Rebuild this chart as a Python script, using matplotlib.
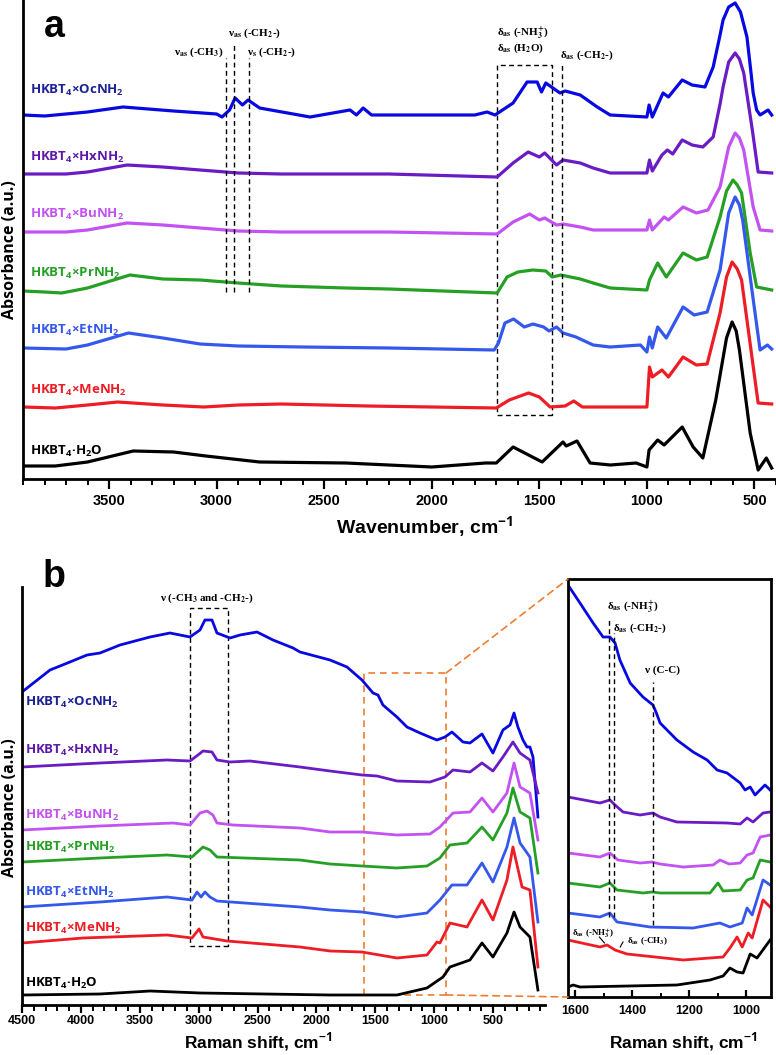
import numpy as np
import matplotlib
matplotlib.use("Agg")
import matplotlib.pyplot as plt
from matplotlib.ticker import MultipleLocator
from matplotlib.patches import Rectangle, ConnectionPatch

# ---------------- DATA ----------------
NAMES = ["HKBT$_4$×OcNH$_2$", "HKBT$_4$×HxNH$_2$", "HKBT$_4$×BuNH$_2$",
         "HKBT$_4$×PrNH$_2$", "HKBT$_4$×EtNH$_2$", "HKBT$_4$×MeNH$_2$",
         "HKBT$_4$·H$_2$O"]

# Panel a: FTIR (wavenumber, absorbance a.u.)
A_OC = [(3900, 0), (3800, -1), (3700, 1), (3600, 3), (3435, 8), (3200, 4), (3000, 1), (2975, -2),
        (2940, 5), (2914, 17), (2880, 10), (2854, 15), (2800, 7), (2566, -2), (2380, 5), (2350, 0),
        (2319, 7), (2280, 0), (2147, 0), (1800, 0), (1743, 3), (1706, 0), (1622, 12), (1557, 33),
        (1510, 33), (1490, 23), (1470, 32), (1404, 22), (1380, 24), (1310, 20), (1231, 8), (1171, 0),
        (1000, -2), (990, 10), (975, -2), (925, 22), (900, 18), (836, 35), (790, 30), (730, 28),
        (692, 48), (660, 80), (646, 95), (620, 108), (590, 112), (565, 103), (535, 78), (515, 40),
        (506, 22), (490, 5), (474, 0), (437, 5), (420, 0)]
A_HX = [(3900, 0), (3700, 0), (3600, 2), (3416, 9), (3250, 7), (3077, 4), (2900, 1), (2700, 0),
        (2200, 0), (1696, -3), (1622, 11), (1552, 22), (1500, 17), (1475, 21), (1420, 9), (1390, 14),
        (1310, 11), (1250, 6), (1171, 1), (1000, 1), (988, 14), (975, 3), (930, 19), (905, 24),
        (880, 20), (836, 34), (790, 29), (740, 27), (692, 37), (660, 70), (646, 87), (620, 112),
        (590, 121), (570, 115), (550, 101), (510, 44), (483, 2), (420, 1)]
A_BU = [(3900, 0), (3700, 0), (3600, 2), (3416, 9), (3250, 7), (3077, 4), (2900, 1), (2700, 0),
        (2200, 0), (1696, -2), (1622, 10), (1545, 18), (1500, 12), (1475, 14), (1420, 7), (1390, 8),
        (1310, 5), (1250, 2), (1171, 2), (1000, 2), (988, 12), (975, 2), (920, 15), (900, 12),
        (832, 25), (770, 19), (716, 22), (660, 45), (620, 85), (590, 99), (570, 94), (550, 82),
        (506, 25), (474, 2), (420, 1)]
A_PR = [(3900, 0), (3800, -1), (3720, -2), (3600, 3), (3403, 16), (3250, 12), (3077, 11),
        (2900, 8), (2700, 5), (2400, 3), (2200, 2), (1696, -2), (1650, 14), (1600, 19), (1530, 21),
        (1470, 20), (1440, 14), (1400, 16), (1310, 12), (1250, 8), (1171, 3), (1000, 1), (988, 11),
        (950, 28), (910, 14), (832, 38), (770, 31), (720, 34), (660, 74), (630, 100), (600, 111),
        (580, 106), (560, 98), (520, 38), (490, 4), (420, 1)]
A_ET = [(3900, 0), (3700, -1), (3600, 3), (3410, 15), (3250, 10), (3077, 4), (2900, 2), (2600, 1),
        (2200, 0), (1710, -2), (1690, 5), (1660, 25), (1620, 29), (1570, 21), (1530, 24), (1480, 21),
        (1455, 17), (1420, 21), (1390, 15), (1330, 11), (1250, 3), (1171, 1), (1030, 3), (1000, -4),
        (988, 11), (975, 0), (950, 21), (910, 10), (832, 41), (780, 33), (720, 36), (660, 78),
        (620, 135), (590, 151), (570, 143), (555, 128), (510, 55), (474, -2), (440, 3), (420, -1)]
A_ME = [(3900, 0), (3750, -1), (3600, 2), (3460, 5), (3250, 2), (3060, 0), (2900, 2), (2700, 3),
        (2300, 1), (2000, 0), (1700, -1), (1640, 7), (1550, 14), (1500, 10), (1450, 0), (1380, 1),
        (1340, 6), (1300, 0), (1000, 0), (988, 40), (975, 30), (930, 37), (900, 30), (832, 50),
        (770, 42), (720, 43), (660, 94), (630, 130), (604, 145), (580, 138), (560, 127), (510, 47),
        (483, 4), (420, 3)]
A_H2O = [(3900, 0), (3750, 0), (3600, 4), (3388, 15), (3200, 14), (3050, 10), (2800, 4), (2400, 3),
         (2000, -1), (1750, 3), (1700, 3), (1622, 19), (1487, 4), (1390, 24), (1375, 20), (1325, 25),
         (1264, 3), (1170, 1), (1050, 3), (1000, -1), (990, 16), (950, 26), (920, 21), (836, 39),
         (785, 19), (740, 8), (680, 66), (630, 128), (604, 144), (585, 135), (570, 116), (520, 33),
         (483, -4), (445, 8), (420, -2)]

# Panel b: Raman (Raman shift, intensity a.u.)
B_OC = [(4500, 0), (4262, 22), (4093, 30), (3948, 37), (3838, 39), (3668, 47), (3413, 55),
        (3244, 59), (3074, 55), (2989, 62), (2947, 72), (2887, 72), (2845, 59), (2734, 54),
        (2649, 57), (2505, 60), (2369, 52), (2199, 44), (2140, 40), (1885, 32), (1741, 25),
        (1614, 12), (1520, -1), (1478, -3), (1436, -13), (1317, -25), (1232, -35), (1121, -41),
        (1020, -46), (977, -48), (909, -45), (850, -40), (756, -50), (697, -51), (595, -42),
        (502, -61), (417, -38), (357, -33), (323, -21), (290, -35), (247, -48), (213, -55),
        (188, -55), (162, -65), (120, -125)]
B_HX = [(4500, 0), (3838, 4), (3269, 7), (3074, 6), (3006, 12), (2963, 16), (2887, 15), (2845, 7),
        (2734, 5), (2565, 6), (2140, 0), (1885, -4), (1614, -8), (1486, -9), (1317, -14),
        (1036, -15), (909, -10), (841, -3), (697, -5), (595, 4), (502, -4), (417, 10), (332, 25),
        (272, 14), (213, 9), (188, 7), (120, -26)]
B_BU = [(4500, 0), (3838, 4), (3218, 7), (3074, 5), (2989, 17), (2930, 19), (2879, 15), (2845, 7),
        (2709, 5), (2140, 2), (1885, -2), (1614, -2), (1317, -5), (1036, -4), (952, 3), (841, 17),
        (697, 18), (595, 32), (502, 18), (383, 37), (323, 67), (272, 43), (188, 37), (120, -10)]
B_PR = [(4500, 0), (3838, 4), (3269, 7), (3057, 5), (2963, 15), (2904, 12), (2845, 5), (2140, 2),
        (1885, -2), (1614, -4), (1317, -6), (1062, -4), (952, 4), (867, 17), (722, 19), (595, 35),
        (502, 22), (383, 49), (332, 74), (272, 50), (188, 44), (120, -11)]
B_ET = [(4500, 0), (3838, 5), (3269, 10), (3057, 7), (3014, 15), (2980, 10), (2947, 15),
        (2904, 10), (2845, 6), (2140, 0), (1885, -3), (1614, -5), (1317, -10), (1062, -6),
        (952, 7), (850, 22), (722, 22), (595, 44), (502, 25), (383, 60), (323, 89), (272, 64),
        (188, 50), (120, -15)]
B_ME = [(4500, 0), (3982, 5), (3269, 8), (3057, 5), (2997, 14), (2963, 6), (2760, 2), (2140, -4),
        (1885, -8), (1614, -9), (1317, -15), (1062, -12), (977, 1), (952, 0), (867, 20), (722, 16),
        (595, 43), (502, 23), (383, 63), (332, 96), (255, 56), (188, 53), (120, -24)]
B_H2O = [(4500, 0), (3838, 1), (3413, 4), (2989, 2), (1885, 0), (1317, 0), (1062, 7), (926, 18),
         (867, 28), (697, 35), (595, 52), (502, 38), (383, 62), (323, 83), (272, 68), (188, 58),
         (120, 5)]

# Panel b inset (1600-900 cm-1)
I_OC = [(1625, 0), (1583, -18), (1537, -38), (1502, -52), (1478, -52), (1460, -58), (1443, -75),
        (1407, -98), (1362, -112), (1327, -120), (1315, -128), (1302, -138), (1243, -155),
        (1186, -167), (1137, -175), (1102, -185), (1067, -188), (1021, -198), (1004, -205),
        (986, -202), (969, -210), (934, -200), (916, -205)]
I_HX = [(1625, 0), (1513, -6), (1478, -3), (1460, -8), (1432, -15), (1372, -18), (1327, -16),
        (1302, -20), (1243, -25), (1067, -26), (1021, -27), (997, -21), (976, -25), (941, -16),
        (916, -15)]
I_BU = [(1625, 0), (1513, -4), (1478, 0), (1450, -7), (1372, -10), (1330, -9), (1302, -11),
        (1221, -14), (1116, -12), (1092, -7), (1060, -11), (1021, -10), (997, -2), (976, 0),
        (951, 16), (916, 18)]
I_PR = [(1625, 0), (1513, -4), (1478, 0), (1453, -7), (1362, -10), (1330, -9), (1302, -10),
        (1127, -10), (1099, 0), (1081, -8), (1021, -7), (997, 3), (976, 5), (951, 23), (916, 21)]
I_ET = [(1625, 0), (1513, -4), (1478, 0), (1453, -9), (1337, -14), (1186, -15), (1092, -10),
        (1057, -14), (1014, -10), (997, 5), (979, -2), (941, 33), (916, 28)]
I_ME = [(1625, 0), (1513, -7), (1488, -5), (1460, -10), (1418, -14), (1221, -20), (1081, -17),
        (1057, -8), (1032, 3), (1014, -7), (993, 7), (979, 2), (941, 40), (916, 33)]
I_H2O = [(1625, 0), (1607, 2), (1583, 0), (1243, 2), (1127, 7), (1081, 11), (1057, 19),
         (1032, 15), (1011, 14), (986, 33), (962, 29), (916, 47)]

A_TICKS = [3500, 3000, 2500, 2000, 1500, 1000, 500]
B_TICKS = [4500, 4000, 3500, 3000, 2500, 2000, 1500, 1000, 500]
I_TICKS = [1600, 1400, 1200, 1000]

# ---------------- STYLE / LAYOUT ----------------
CURVE_COLORS = ["#0808e0", "#6a1bc4", "#c352f2", "#25a025", "#3558ec", "#ee1c24", "#000000"]
LABEL_COLORS = ["#1c2296", "#5e1aaa", "#c352f2", "#25a025", "#3558ec", "#ee1c24", "#000000"]
A_OFFSETS = [364, 305, 247, 188, 131, 72, 13]
B_OFFSETS = [313, 238, 175, 143, 98, 62, 10]
I_OFFSETS = [412, 200, 144, 114, 84, 57, 10]
A_LABEL_Y = [90, 157, 214, 273, 330, 390, 451]
B_LABEL_Y = [702, 750, 815, 847, 892, 928, 983]

W, H = 776, 1055
plt.rcParams['font.family'] = ['Liberation Sans Narrow', 'Liberation Sans', 'DejaVu Sans']
plt.rcParams['font.weight'] = 'bold'
plt.rcParams['mathtext.fontset'] = 'custom'
plt.rcParams['mathtext.rm'] = 'Open Sans:bold'
plt.rcParams['mathtext.it'] = 'Open Sans:bold'
plt.rcParams['mathtext.bf'] = 'Open Sans:bold'

fig = plt.figure(figsize=(W / 100, H / 100), dpi=100)


def rect(x0, y0, x1, y1):
    return [x0 / W, 1 - y1 / H, (x1 - x0) / W, (y1 - y0) / H]


def fp(x, y):
    return x / W, 1 - y / H


def unzip(pairs):
    return [p[0] for p in pairs], [p[1] for p in pairs]


SERIF = dict(family='Liberation Serif', fontweight='bold', math_fontfamily='stix')
DASH = dict(color='black', lw=1.0, ls=(0, (3.5, 2.5)))

# ---------------- PANEL A ----------------
axA = fig.add_axes(rect(23, 0, 776, 479))
axA.set_xlim(3900, 400)
axA.set_ylim(0, 479)
for i, ser in enumerate([A_OC, A_HX, A_BU, A_PR, A_ET, A_ME, A_H2O]):
    x, y = unzip(ser)
    axA.plot(x, np.array(y) + A_OFFSETS[i], color=CURVE_COLORS[i], lw=2.3, solid_joinstyle='round')
    fig.text(*fp(30, A_LABEL_Y[i]), NAMES[i], color=LABEL_COLORS[i], fontsize=9.5,
             family='Open Sans', fontweight='bold', va='center', ha='left')

# annotations
axA.plot([2956, 2956], [187, 421], **DASH)
axA.plot([2919, 2919], [187, 437], **DASH)
axA.plot([2849, 2849], [187, 421], **DASH)
axA.add_patch(Rectangle((1440, 64), 256, 350, fill=False, ec='black', lw=1.0, ls=(0, (3.5, 2.5))))
axA.plot([1394, 1394], [142, 414], **DASH)
axA.text(2968, 427, "ν$_{\\mathbf{as}}$ (-CH$_\\mathbf{3}$)", ha='right', va='center', fontsize=8, **SERIF)
axA.text(2946, 446, "ν$_{\\mathbf{as}}$ (-CH$_\\mathbf{2}$-)", ha='left', va='center', fontsize=8, **SERIF)
axA.text(2859, 427, "ν$_{\\mathbf{s}}$ (-CH$_\\mathbf{2}$-)", ha='left', va='center', fontsize=8, **SERIF)
axA.text(1696, 446, "δ$_{\\mathbf{as}}$ (-NH$_\\mathbf{3}^\\mathbf{+}$)", ha='left', va='center', fontsize=8, **SERIF)
axA.text(1696, 431, "δ$_{\\mathbf{as}}$ (H$_\\mathbf{2}$O)", ha='left', va='center', fontsize=8, **SERIF)
axA.text(1404, 424, "δ$_{\\mathbf{as}}$ (-CH$_\\mathbf{2}$-)", ha='left', va='center', fontsize=8, **SERIF)

axA.spines['top'].set_visible(False)
axA.spines['right'].set_visible(False)
axA.spines['left'].set_linewidth(2)
axA.spines['bottom'].set_linewidth(2)
axA.set_yticks([])
axA.xaxis.set_minor_locator(MultipleLocator(100))
axA.set_xticks(A_TICKS)
axA.tick_params(axis='x', which='major', direction='out', length=7, width=1.6, labelsize=10.5, pad=4)
axA.tick_params(axis='x', which='minor', direction='out', length=4, width=1.4)
fig.text(*fp(425, 527), "Wavenumber, cm$^{-1}$", fontsize=14, ha='center', va='center')
fig.text(*fp(10, 250), "Absorbance (a.u.)", rotation=90, fontsize=11.5, family='Open Sans',
         fontweight='bold', ha='center', va='center')
fig.text(*fp(44, 27), "a", fontsize=27, family='Liberation Sans', fontweight='bold', ha='left', va='center')

# ---------------- PANEL B main ----------------
axB = fig.add_axes(rect(22, 587, 545, 1005))
axB.set_xlim(4500, 60)
axB.set_ylim(0, 418)
for i, ser in enumerate([B_OC, B_HX, B_BU, B_PR, B_ET, B_ME, B_H2O]):
    x, y = unzip(ser)
    axB.plot(x, np.array(y) + B_OFFSETS[i], color=CURVE_COLORS[i], lw=2.0, solid_joinstyle='round')
    fig.text(*fp(25, B_LABEL_Y[i]), NAMES[i], color=LABEL_COLORS[i], fontsize=9.5,
             family='Open Sans', fontweight='bold', va='center', ha='left')
axB.add_patch(Rectangle((2751, 59), 323, 338, fill=False, ec='black', lw=1.0, ls=(0, (3.5, 2.5))))
axB.text(2929, 407, "ν (-CH$_\\mathbf{3}$ and -CH$_\\mathbf{2}$-)", ha='center', va='center', fontsize=8, **SERIF)
ORANGE = '#ed7d31'
axB.add_patch(Rectangle((900, 10), 700, 322, fill=False, ec=ORANGE, lw=1.2, ls=(0, (4, 3)), clip_on=False))

axB.spines['top'].set_visible(False)
axB.spines['right'].set_visible(False)
axB.spines['left'].set_linewidth(2)
axB.spines['bottom'].set_linewidth(2)
axB.set_yticks([])
axB.xaxis.set_minor_locator(MultipleLocator(100))
axB.set_xticks(B_TICKS)
axB.tick_params(axis='x', which='major', direction='out', length=6, width=1.6, labelsize=9, pad=1.5)
axB.tick_params(axis='x', which='minor', direction='out', length=4, width=1.4)
fig.text(*fp(258, 1042), "Raman shift, cm$^{-1}$", fontsize=12.5, ha='center', va='center')
fig.text(*fp(10, 808), "Absorbance (a.u.)", rotation=90, fontsize=11.5, family='Open Sans',
         fontweight='bold', ha='center', va='center')
fig.text(*fp(43, 577), "b", fontsize=27, family='Liberation Sans', fontweight='bold', ha='left', va='center')

# ---------------- PANEL B inset ----------------
axI = fig.add_axes(rect(568, 579, 771, 997))
axI.set_xlim(1625, 913)
axI.set_ylim(0, 418)
for i, ser in enumerate([I_OC, I_HX, I_BU, I_PR, I_ET, I_ME, I_H2O]):
    x, y = unzip(ser)
    axI.plot(x, np.array(y) + I_OFFSETS[i], color=CURVE_COLORS[i], lw=2.0, solid_joinstyle='round')
axI.plot([1481, 1481], [80, 380], **DASH)
axI.plot([1464, 1464], [80, 364], **DASH)
axI.plot([1327, 1327], [72, 315], **DASH)
axI.text(1488, 390, "δ$_{\\mathbf{as}}$ (-NH$_\\mathbf{3}^\\mathbf{+}$)", ha='left', va='center', fontsize=8, **SERIF)
axI.text(1467, 369, "δ$_{\\mathbf{as}}$ (-CH$_\\mathbf{2}$-)", ha='left', va='center', fontsize=8, **SERIF)
axI.text(1355, 327, "ν (C-C)", ha='left', va='center', fontsize=8, **SERIF)
axI.text(1611, 64, "δ$_{\\mathbf{as}}$ (-NH$_\\mathbf{3}^\\mathbf{+}$)", ha='left', va='center', fontsize=6.5, **SERIF)
axI.text(1418, 56, "δ$_{\\mathbf{as}}$ (-CH$_\\mathbf{3}$)", ha='left', va='center', fontsize=6.5, **SERIF)
axI.plot([1515, 1497], [60, 54], color='black', lw=0.8)
axI.plot([1432, 1442], [55, 50], color='black', lw=0.8)
for s in axI.spines.values():
    s.set_linewidth(2)
axI.set_yticks([])
axI.xaxis.set_minor_locator(MultipleLocator(100))
axI.set_xticks(I_TICKS)
axI.tick_params(axis='x', which='major', direction='in', length=5, width=1.6, labelsize=9, pad=6)
axI.tick_params(axis='x', which='minor', direction='in', length=3, width=1.4)
fig.text(*fp(683, 1042), "Raman shift, cm$^{-1}$", fontsize=12.5, ha='center', va='center')

# connectors
for xyA, xyB in [((900, 332), (0, 1)), ((900, 10), (0, 0))]:
    con = ConnectionPatch(xyA=xyA, coordsA=axB.transData, xyB=xyB, coordsB=axI.transAxes,
                          color=ORANGE, lw=1.2, ls=(0, (4, 3)))
    fig.add_artist(con)

fig.savefig("out.png", dpi=100)
